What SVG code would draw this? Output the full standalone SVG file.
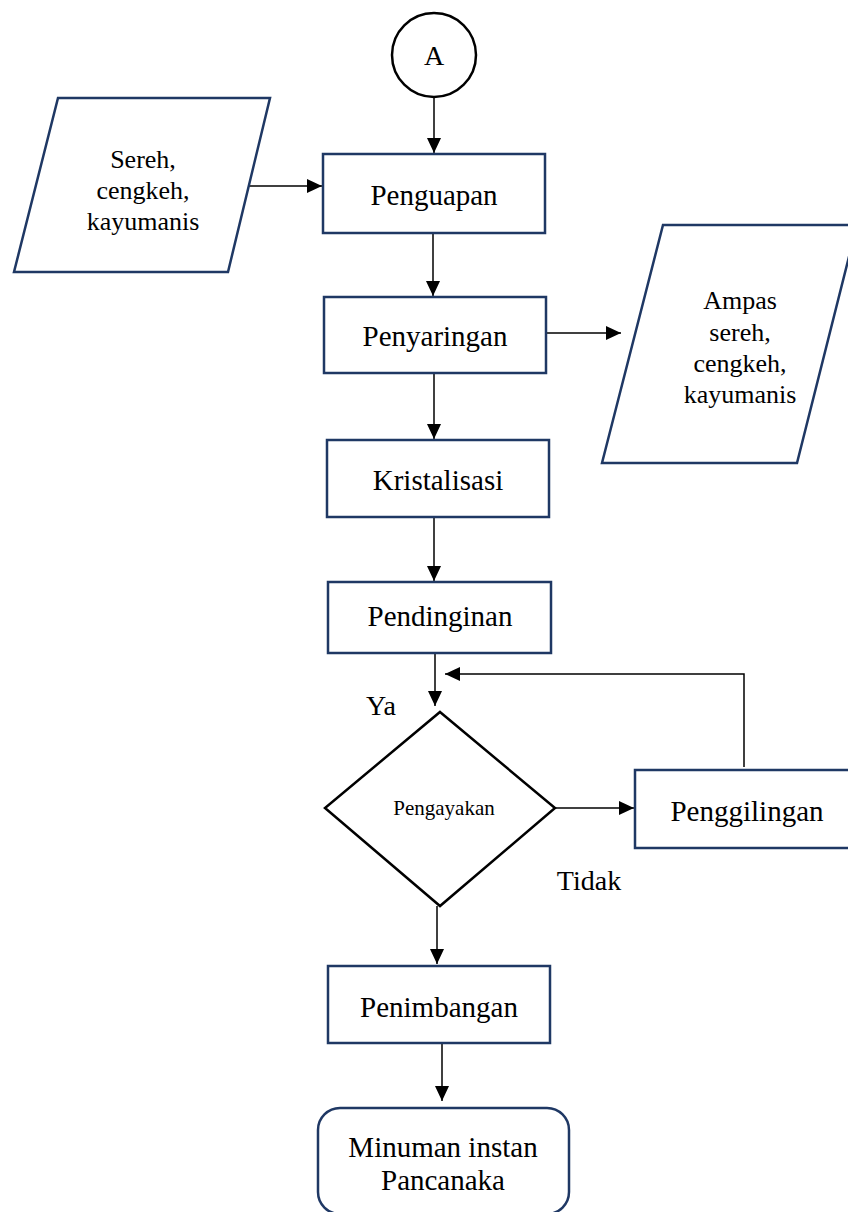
<svg xmlns="http://www.w3.org/2000/svg" width="848" height="1212" viewBox="0 0 848 1212">
<defs>
<marker id="arr" markerUnits="userSpaceOnUse" markerWidth="16" markerHeight="16" refX="15" refY="7" orient="auto">
<path d="M0,0 L15,7 L0,14 Z" fill="#000"/>
</marker>
<style>
.box{fill:#fff;stroke:#1F3864;stroke-width:2.5}
.blk{fill:#fff;stroke:#000;stroke-width:2.5}
text{font-family:'Liberation Serif','Times New Roman','DejaVu Serif',serif;fill:#000;text-anchor:middle}
.t{font-size:29px}
.s{font-size:26px}
.m{font-size:21px}
.l{font-size:28px}
.c{fill:none;stroke:#000;stroke-width:1.5}
</style>
</defs>
<rect width="848" height="1212" fill="#fff"/>
<g id="connectors">
<line class="c" x1="434" y1="97" x2="434" y2="153" marker-end="url(#arr)"/>
<line class="c" x1="246" y1="186" x2="322" y2="186" marker-end="url(#arr)"/>
<line class="c" x1="433" y1="233" x2="433" y2="296" marker-end="url(#arr)"/>
<line class="c" x1="546" y1="333" x2="621" y2="333" marker-end="url(#arr)"/>
<line class="c" x1="434" y1="373" x2="434" y2="439" marker-end="url(#arr)"/>
<line class="c" x1="434" y1="517" x2="434" y2="581" marker-end="url(#arr)"/>
<line class="c" x1="435" y1="653" x2="435" y2="706" marker-end="url(#arr)"/>
<polyline class="c" points="744,767 744,674 445,674" marker-end="url(#arr)"/>
<line class="c" x1="555" y1="808" x2="634" y2="808" marker-end="url(#arr)"/>
<line class="c" x1="437" y1="906" x2="437" y2="964" marker-end="url(#arr)"/>
<line class="c" x1="442" y1="1043" x2="442" y2="1101" marker-end="url(#arr)"/>
</g>
<g id="connector-A">
<circle class="blk" cx="434" cy="55" r="42" stroke-width="2"/>
<text class="l" x="434" y="65">A</text>
</g>
<g id="input-bahan">
<polygon class="box" points="58,98 270,98 228,272 14,272"/>
<text class="s" x="143" y="168">Sereh,</text>
<text class="s" x="143" y="199">cengkeh,</text>
<text class="s" x="143" y="230">kayumanis</text>
</g>
<g id="penguapan">
<rect class="box" x="323" y="154" width="222" height="79"/>
<text class="t" x="434" y="205">Penguapan</text>
</g>
<g id="penyaringan">
<rect class="box" x="324" y="297" width="222" height="76"/>
<text class="t" x="435" y="346">Penyaringan</text>
</g>
<g id="output-ampas">
<polygon class="box" points="663,225 857,225 797,463 602,463"/>
<text class="s" x="740" y="309">Ampas</text>
<text class="s" x="740" y="341">sereh,</text>
<text class="s" x="740" y="372">cengkeh,</text>
<text class="s" x="740" y="403">kayumanis</text>
</g>
<g id="kristalisasi">
<rect class="box" x="327" y="440" width="222" height="77"/>
<text class="t" x="438" y="490">Kristalisasi</text>
</g>
<g id="pendinginan">
<rect class="box" x="328" y="582" width="223" height="71"/>
<text class="t" x="440" y="626">Pendinginan</text>
</g>
<g id="pengayakan">
<polygon class="blk" points="440,712 555,808 440,906 325,808"/>
<text class="m" x="444" y="815">Pengayakan</text>
</g>
<g id="penggilingan">
<rect class="box" x="635" y="770" width="230" height="78"/>
<text class="t" x="747" y="821">Penggilingan</text>
</g>
<g id="labels">
<text class="l" x="381" y="715">Ya</text>
<text class="l" x="589" y="890">Tidak</text>
</g>
<g id="penimbangan">
<rect class="box" x="328" y="966" width="222" height="77"/>
<text class="t" x="439" y="1017">Penimbangan</text>
</g>
<g id="output-akhir">
<rect class="box" x="318" y="1108" width="251" height="106" rx="22"/>
<text class="t" x="443" y="1157">Minuman instan</text>
<text class="t" x="443" y="1190">Pancanaka</text>
</g>
</svg>
